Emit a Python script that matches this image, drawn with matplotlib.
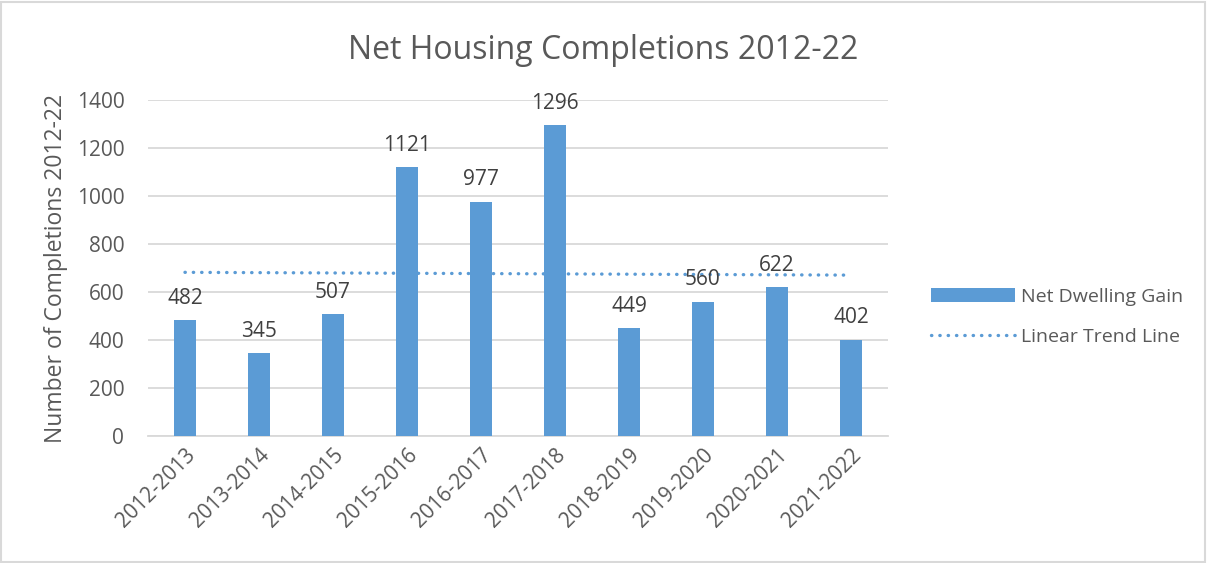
import numpy as np
import matplotlib
matplotlib.use("Agg")
from matplotlib import pyplot as plt

# dados do grafico
anos = ['2012-2013', '2013-2014', '2014-2015', '2015-2016', '2016-2017',
        '2017-2018', '2018-2019', '2019-2020', '2020-2021', '2021-2022']
ganho = [482, 345, 507, 1121, 977, 1296, 449, 560, 622, 402]
yticks = [0, 200, 400, 600, 800, 1000, 1200, 1400]

azul = '#5B9BD5'
cinza = '#595959'
grade = '#D9D9D9'

plt.rcParams['font.family'] = ['Open Sans', 'DejaVu Sans']

fig = plt.figure(figsize=(12.07, 5.63), dpi=100)
ax = fig.add_axes([0.1226, 0.2256, 0.6131, 0.5968])

x = np.arange(len(anos))
# linha de tendencia linear (minimos quadrados)
coef = np.polyfit(x, ganho, 1)
tend = np.polyval(coef, x)
ax.plot(x, tend, color=azul, lw=2.4, linestyle=(0, (0.1, 2.4)),
        dash_capstyle='round', label='Linear Trend Line', zorder=2)

barras = ax.bar(x, ganho, width=0.31, color=azul, label='Net Dwelling Gain', zorder=3)
for xi, v in zip(x, ganho):
    ax.annotate(str(v), (xi, v), xytext=(0, 8), textcoords='offset points',
                ha='center', va='bottom', fontsize=15, color='#404040')

ax.set_xlim(-0.5, len(anos) - 0.5)
ax.set_ylim(0, 1400)
ax.set_yticks(yticks)
ax.yaxis.grid(True, color=grade, lw=1.3)
ax.set_axisbelow(True)
for s in ['top', 'right', 'left']:
    ax.spines[s].set_visible(False)
ax.spines['bottom'].set_color(grade)
ax.spines['bottom'].set_linewidth(1.3)
ax.tick_params(length=0, labelsize=15, colors=cinza, pad=6)
ax.set_xticks(x)
ax.set_xticklabels(anos, rotation=45, ha='right', rotation_mode='anchor')
ax.tick_params(axis='y', pad=17)
ax.set_ylabel('Number of Completions 2012-22', fontsize=16.5, color=cinza, labelpad=6)

fig.suptitle('Net Housing Completions 2012-22', fontsize=23, color=cinza, y=0.94)

h, l = ax.get_legend_handles_labels()
fig.legend(h[::-1], l[::-1], loc='center left', bbox_to_anchor=(0.757, 0.437),
           frameon=False, fontsize=14, labelcolor=cinza, handlelength=4.3,
           labelspacing=1.15, handletextpad=0.3)

# borda externa
fig.patches.append(plt.Rectangle((0.001, 0.002), 0.997, 0.995, transform=fig.transFigure,
                                 fill=False, edgecolor=grade, lw=1.5))

fig.savefig('out.png', dpi=100)
